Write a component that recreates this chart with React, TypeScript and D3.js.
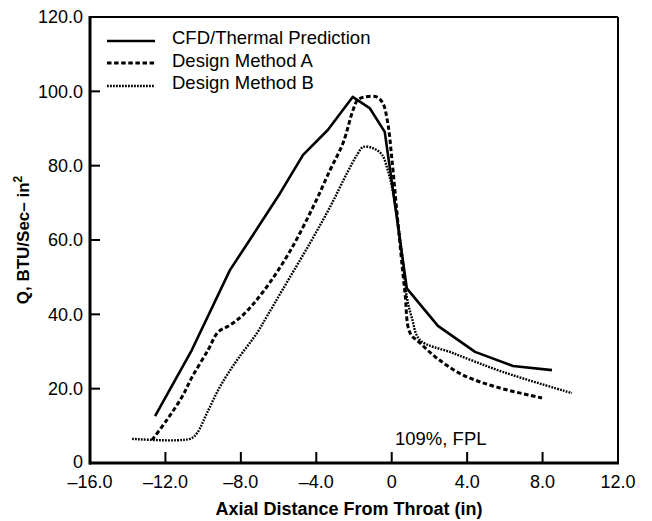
import React from "react";
import * as d3 from "d3";

const xTicks = [-16, -12, -8, -4, 0, 4, 8, 12];
const xTickLabels = ["–16.0", "–12.0", "–8.0", "–4.0", "0", "4.0", "8.0", "12.0"];
const yTicks = [0, 20, 40, 60, 80, 100, 120];
const yTickLabels = ["0", "20.0", "40.0", "60.0", "80.0", "100.0", "120.0"];

const seriesNames = ["CFD/Thermal Prediction", "Design Method A", "Design Method B"];

const cfdX = [-12.55, -10.6, -8.58, -7.53, -5.92, -4.7, -3.39, -2.07, -1.17, -0.37, 0.8, 2.45, 4.42, 6.43, 8.5];
const cfdY = [12.6, 30.4, 51.9, 60.0, 72.6, 82.9, 89.6, 98.5, 95.5, 89.1, 47.0, 36.9, 29.9, 26.1, 25.0];

const methodAX = [-12.71, -11.92, -11.12, -10.59, -9.74, -9.21, -8.58, -7.89, -6.83, -5.45, -4.17, -3.27, -2.58, -2.05, -1.8, -1.43, -0.8, -0.48, -0.21, 0.0, 0.33, 0.7, 0.97, 1.5, 2.4, 3.77, 5.58, 7.97];
const methodAY = [6.2, 11.6, 17.8, 23.1, 30.4, 35.2, 37.1, 39.8, 46.0, 56.5, 68.9, 78.8, 86.1, 95.0, 97.7, 98.5, 98.5, 96.9, 91.5, 82.3, 64.6, 46.0, 35.0, 32.3, 28.2, 23.7, 20.4, 17.5];

const methodBX = [-13.77, -10.7, -10.33, -9.8, -9.11, -8.2, -7.14, -6.6, -5.77, -4.33, -3.27, -2.37, -1.84, -1.52, -0.99, -0.51, -0.21, 0.05, 0.33, 0.6, 0.8, 1.07, 1.5, 3.24, 5.9, 9.56];
const methodBY = [6.5, 6.5, 8.0, 13.4, 20.5, 27.7, 35.0, 39.6, 46.8, 59.2, 68.9, 78.0, 82.9, 85.0, 84.7, 82.9, 78.8, 73.4, 64.6, 53.8, 44.7, 39.0, 33.1, 29.6, 24.5, 18.8];

const FONT = "'Liberation Sans', Arial, Helvetica, sans-serif";

export default function App() {
  const W = 652, H = 521;
  const x = d3.scaleLinear().domain([-16, 12]).range([90, 618]);
  const y = d3.scaleLinear().domain([0, 120]).range([463, 17]);

  const toPts = (xs: number[], ys: number[]) => xs.map((v, i) => [v, ys[i]] as [number, number]);
  const lineLin = d3.line<[number, number]>().x(d => x(d[0])).y(d => y(d[1]));
  const lineSmooth = d3.line<[number, number]>().x(d => x(d[0])).y(d => y(d[1])).curve(d3.curveCatmullRom.alpha(0.5));

  const styles = [
    { w: 2.6, dash: "none" },
    { w: 3, dash: "4.5,2.6" },
    { w: 2.4, dash: "1.8,1.2" },
  ];
  const paths = [
    lineLin(toPts(cfdX, cfdY)),
    lineSmooth(toPts(methodAX, methodAY)),
    lineSmooth(toPts(methodBX, methodBY)),
  ];
  const legendY = [41, 63, 86];
  const legendTextY = [43.5, 66.5, 88.5];

  const [x0, x1] = x.range();
  const [y0, y1] = y.range();

  return (
    <svg width={W} height={H} viewBox={`0 0 ${W} ${H}`} style={{ position: "absolute", left: 0, top: 0, background: "#fff" }} fontFamily={FONT}>
      <rect x={0} y={0} width={W} height={H} fill="#fff" />
      {/* frame */}
      <line x1={x0} x2={x1} y1={y1} y2={y1} stroke="#000" strokeWidth={2} />
      <line x1={x1} x2={x1} y1={y1} y2={y0} stroke="#000" strokeWidth={2} />
      <line x1={x0} x2={x0} y1={y1 - 1} y2={y0 + 1.5} stroke="#000" strokeWidth={3} />
      <line x1={x0 - 1} x2={x1 + 1} y1={y0} y2={y0} stroke="#000" strokeWidth={3} />
      {/* y ticks */}
      {yTicks.map((t, i) => (
        <g key={"y" + i}>
          <line x1={x0} x2={x0 + 10} y1={y(t)} y2={y(t)} stroke="#000" strokeWidth={2} />
          <text x={x0 - 7} y={y(t)} dy={t === 0 ? "0.28em" : "0.35em"} textAnchor="end" fontSize={18} fill="#000">{yTickLabels[i]}</text>
        </g>
      ))}
      {/* x ticks */}
      {xTicks.map((t, i) => (
        <g key={"x" + i}>
          <line x1={x(t)} x2={x(t)} y1={y0} y2={y0 - 11} stroke="#000" strokeWidth={2} />
          <text x={x(t)} y={488} textAnchor="middle" fontSize={18} fill="#000">{xTickLabels[i]}</text>
        </g>
      ))}
      {/* axis titles */}
      <text x={349} y={515} textAnchor="middle" fontSize={18} fontWeight="bold" fill="#000">Axial Distance From Throat (in)</text>
      <text transform={`translate(29,240) rotate(-90)`} textAnchor="middle" fontSize={17} fontWeight="bold" fill="#000">
        Q, BTU/Sec– in<tspan dy={-7} fontSize={12}>2</tspan>
      </text>
      {/* series */}
      {paths.map((p, i) => (
        <path key={"p" + i} d={p || ""} fill="none" stroke="#000" strokeWidth={styles[i].w} strokeDasharray={styles[i].dash} strokeLinejoin="round" />
      ))}
      {/* legend */}
      {seriesNames.map((n, i) => (
        <g key={"l" + i}>
          <line x1={107} x2={155} y1={legendY[i]} y2={legendY[i]} stroke="#000" strokeWidth={styles[i].w} strokeDasharray={styles[i].dash} />
          <text x={172} y={legendTextY[i]} fontSize={18.5} fill="#000">{n}</text>
        </g>
      ))}
      <text x={395} y={445} fontSize={18.5} fill="#000">109%, FPL</text>
    </svg>
  );
}
